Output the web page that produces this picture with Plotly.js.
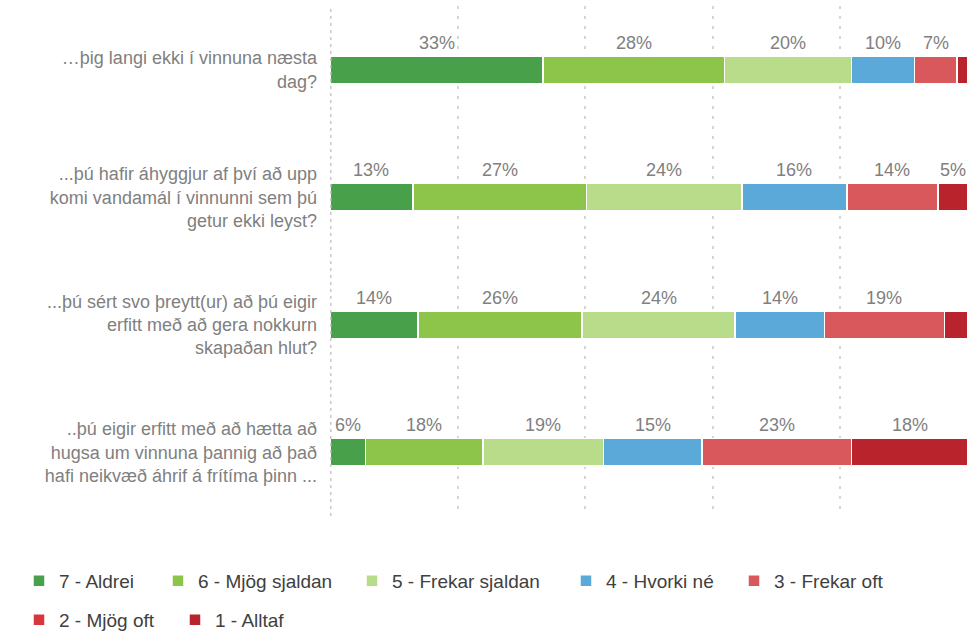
<!DOCTYPE html>
<html>
<head>
<meta charset="utf-8">
<script src="https://cdn.plot.ly/plotly-3.0.1.min.js"></script>
<style>
  html, body { margin: 0; padding: 0; background: #fff; }
  #chart { width: 968px; height: 632px; }
</style>
</head>
<body>
<div id="chart"></div>
<script>
// spurningar (y-ás)
const questions = [
  '…þig langi ekki í vinnuna næsta<br>dag?',
  '...þú hafir áhyggjur af því að upp<br>komi vandamál í vinnunni sem þú<br>getur ekki leyst?',
  '...þú sért svo þreytt(ur) að þú eigir<br>erfitt með að gera nokkurn<br>skapaðan hlut?',
  '..þú eigir erfitt með að hætta að<br>hugsa um vinnuna þannig að það<br>hafi neikvæð áhrif á frítíma þinn ...'
];

// svarmöguleikar og litir
const answers = ['7 - Aldrei', '6 - Mjög sjaldan', '5 - Frekar sjaldan', '4 - Hvorki né',
                 '3 - Frekar oft', '2 - Mjög oft', '1 - Alltaf'];
const colors = ['#48a04b', '#8dc54b', '#b9dc8b', '#5ba9d8', '#d8585c', '#d8363d', '#b9232b'];

// hlutfall (%) fyrir hverja spurningu, lesið af myndinni
const aldrei        = [33.4, 13.0, 13.8,  5.6];
const mjogSjaldan   = [28.4, 27.2, 25.7, 18.4];
const frekarSjaldan = [19.9, 24.4, 24.0, 18.9];
const hvorkiNe      = [ 9.9, 16.4, 14.0, 15.4];
const frekarOft     = [ 6.7, 14.3, 18.8, 23.4];
const mjogOft       = [ 0.0,  0.0,  0.0,  0.0];
const alltaf        = [ 1.7,  4.7,  3.7, 18.3];

const series = [aldrei, mjogSjaldan, frekarSjaldan, hvorkiNe, frekarOft, mjogOft, alltaf];

const font = 'Liberation Sans, Arial, sans-serif';

// hver skýring fær sinn eigin legend-reit svo bilin passi
const legendIds = ['legend', 'legend2', 'legend3', 'legend4', 'legend5', 'legend6', 'legend7'];
const legendPos = [[19, 581], [158, 581], [352, 581], [566, 581], [734, 581], [19, 620], [175, 620]];

const traces = series.map(function (vals, i) {
  return {
    type: 'bar',
    orientation: 'h',
    name: answers[i],
    x: vals,
    y: questions,
    marker: { color: colors[i], line: { color: '#ffffff', width: 1.5 } },
    hoverinfo: 'name+x',
    showlegend: true,
    legend: legendIds[i]
  };
});

// prósentumerki fyrir ofan hvern bút
const annotations = [];
questions.forEach(function (q, r) {
  let start = 0;
  series.forEach(function (vals) {
    const v = vals[r];
    const pct = Math.round(v);
    if (pct >= 5) {
      annotations.push({
        x: start + v / 2, y: q, xref: 'x', yref: 'y',
        text: pct + '%', showarrow: false, yshift: 27,
        font: { family: font, size: 18, color: '#808080' }
      });
    }
    start += v;
  });
});

const layout = {
  width: 968, height: 632,
  margin: { l: 330, r: 0, t: 6, b: 116 },
  barmode: 'stack',
  bargap: 0.788,
  showlegend: true,
  paper_bgcolor: '#ffffff',
  plot_bgcolor: '#ffffff',
  font: { family: font, size: 18, color: '#808080' },
  xaxis: {
    range: [0, 100],
    dtick: 20,
    showticklabels: false,
    showgrid: true,
    gridcolor: '#d6d6d6',
    gridwidth: 1.5,
    griddash: '3px,7px',
    zeroline: false,
    fixedrange: true
  },
  yaxis: {
    autorange: 'reversed',
    ticks: '',
    ticklabelstandoff: 12,
    showgrid: false,
    zeroline: false,
    tickfont: { family: font, size: 18, color: '#808080' },
    fixedrange: true
  },
  shapes: [{
    type: 'line', xref: 'x', yref: 'paper',
    x0: 0, x1: 0, y0: 0, y1: 1,
    line: { color: '#c8c8c8', width: 3, dash: '3px,4px' }
  }],
  annotations: annotations
};

legendIds.forEach(function (id, i) {
  layout[id] = {
    orientation: 'h',
    xref: 'container', yref: 'container',
    xanchor: 'left', yanchor: 'middle',
    x: legendPos[i][0] / 968,
    y: 1 - legendPos[i][1] / 632,
    font: { family: font, size: 19, color: '#404040' },
    itemwidth: 30,
    bgcolor: 'rgba(0,0,0,0)'
  };
});

Plotly.newPlot('chart', traces, layout, { displayModeBar: false, responsive: false });
</script>
</body>
</html>
